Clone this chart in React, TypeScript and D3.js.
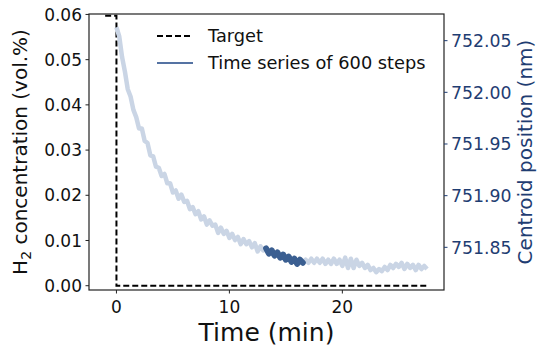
import React from "react";
import * as d3 from "d3";

// ---- data ----
const STEP_MIN = 0.25; // sampling interval of the plotted series (min)
const centroidValues: number[] = [
  752.063, 752.054, 752.034, 752.020, 752.003, 751.996, 751.983, 751.976, 751.965, 751.965,
  751.953, 751.951, 751.939, 751.938, 751.928, 751.927, 751.919, 751.921, 751.912, 751.912,
  751.903, 751.905, 751.897, 751.901, 751.894, 751.895, 751.887, 751.889, 751.882, 751.885,
  751.877, 751.880, 751.872, 751.876, 751.871, 751.872, 751.864, 751.869, 751.863, 751.866,
  751.859, 751.863, 751.857, 751.860, 751.853, 751.858, 751.853, 751.856, 751.850, 751.854,
  751.846, 751.851, 751.847, 751.849, 751.844, 751.847, 751.842, 751.845, 751.840, 751.843,
  751.838, 751.841, 751.836, 751.839, 751.834, 751.838, 751.835, 751.838, 751.835, 751.839,
  751.835, 751.839, 751.835, 751.839, 751.834, 751.838, 751.834, 751.839, 751.834, 751.838,
  751.832, 751.840, 751.830, 751.839, 751.830, 751.838, 751.832, 751.835, 751.830, 751.833,
  751.828, 751.830, 751.826, 751.829, 751.827, 751.831, 751.828, 751.833, 751.830, 751.834,
  751.831, 751.835, 751.829, 751.834, 751.830, 751.833, 751.828, 751.833, 751.829, 751.832,
  751.829,
];
const highlightStart = 13.25; // min
const highlightEnd = 16.5; // min

const targetTimes: number[] = [-1, 0, 0, 27.5];
const targetValues: number[] = [0.0597, 0.0597, 0, 0];

const xTicks: number[] = [0, 10, 20];
const leftTicks: number[] = [0.0, 0.01, 0.02, 0.03, 0.04, 0.05, 0.06];
const rightTicks: number[] = [751.85, 751.9, 751.95, 752.0, 752.05];

const legendLabels: string[] = ["Target", "Time series of 600 steps"];

// ---- layout ----
const W = 538;
const H = 348;
const L = 89;
const R = 444;
const T = 14;
const B = 290;
const FONT = "DejaVu Sans, sans-serif";
const LIGHT = "#cad5e5";
const DARK = "#3b5f91";
const AXIS_BLUE = "#1f3d72";
const LEGEND_BLUE = "#5573a3";

export default function App() {
  const x = d3.scaleLinear().domain([-2.43, 29.0]).range([L, R]);
  const yL = d3.scaleLinear().domain([-0.00095, 0.0601]).range([B, T]);
  const yR = d3.scaleLinear().domain([751.8087, 752.0758]).range([B, T]);

  const series = centroidValues.map((v, i) => ({ t: i * STEP_MIN, v }));
  const hi = series.filter((d) => d.t >= highlightStart - 1e-9 && d.t <= highlightEnd + 1e-9);

  const seriesLine = d3
    .line<{ t: number; v: number }>()
    .x((d) => x(d.t))
    .y((d) => yR(d.v));

  const target = targetTimes.map((t, i) => ({ t, v: targetValues[i] }));
  const targetLine = d3
    .line<{ t: number; v: number }>()
    .x((d) => x(d.t))
    .y((d) => yL(d.v));

  const fmtL = d3.format(".2f");
  const fmtR = d3.format(".2f");

  return (
    <svg
      width={W}
      height={H}
      style={{ position: "absolute", left: 0, top: 0, background: "#fff" }}
      fontFamily={FONT}
    >
      <rect x={0} y={0} width={W} height={H} fill="#fff" />
      <defs>
        <clipPath id="plotclip">
          <rect x={L} y={T} width={R - L} height={B - T} />
        </clipPath>
      </defs>

      <g clipPath="url(#plotclip)">
        <path d={targetLine(target) || ""} fill="none" stroke="#000" strokeWidth={2} strokeDasharray="6,3" />
        <path d={seriesLine(series) || ""} fill="none" stroke={LIGHT} strokeWidth={4.5} strokeLinejoin="round" />
        <path d={seriesLine(hi) || ""} fill="none" stroke={DARK} strokeWidth={6} strokeLinejoin="round" strokeLinecap="round" />
      </g>

      {/* frame */}
      <rect x={L} y={T} width={R - L} height={B - T} fill="none" stroke="#222" strokeWidth={1.2} />

      {/* left ticks */}
      {leftTicks.map((v) => (
        <g key={"l" + v}>
          <line x1={L - 3.5} x2={L} y1={yL(v)} y2={yL(v)} stroke="#222" strokeWidth={1} />
          <text x={L - 7} y={yL(v) + 6.2} textAnchor="end" fontSize={17} fill="#111">
            {fmtL(v)}
          </text>
        </g>
      ))}

      {/* bottom ticks */}
      {xTicks.map((v) => (
        <g key={"x" + v}>
          <line x1={x(v)} x2={x(v)} y1={B} y2={B + 3.5} stroke="#222" strokeWidth={1} />
          <text x={x(v)} y={312.5} textAnchor="middle" fontSize={17} fill="#111">
            {v}
          </text>
        </g>
      ))}

      {/* right ticks */}
      {rightTicks.map((v) => (
        <g key={"r" + v}>
          <line x1={R} x2={R + 3.5} y1={yR(v)} y2={yR(v)} stroke={AXIS_BLUE} strokeWidth={1} />
          <text x={R + 7} y={yR(v) + 6.2} textAnchor="start" fontSize={17.3} fill={AXIS_BLUE}>
            {fmtR(v)}
          </text>
        </g>
      ))}

      {/* axis labels */}
      <text x={(L + R) / 2} y={341} textAnchor="middle" fontSize={25} fill="#111">
        Time (min)
      </text>
      <text
        transform={`translate(27, ${(T + B) / 2}) rotate(-90)`}
        textAnchor="middle"
        fontSize={20}
        fill="#111"
      >
        <tspan>H</tspan>
        <tspan fontSize={14} dy={4}>2</tspan>
        <tspan dy={-4}> concentration (vol.%)</tspan>
      </text>
      <text
        transform={`translate(532, ${(T + B) / 2}) rotate(-90)`}
        textAnchor="middle"
        fontSize={20}
        fill={AXIS_BLUE}
      >
        Centroid position (nm)
      </text>

      {/* legend */}
      <line x1={157} x2={193} y1={36} y2={36} stroke="#000" strokeWidth={2} strokeDasharray="6,3" />
      <text x={208} y={42.3} fontSize={17.8} fill="#111">
        {legendLabels[0]}
      </text>
      <line x1={157} x2={193} y1={63} y2={63} stroke={LEGEND_BLUE} strokeWidth={1.8} />
      <text x={208} y={69.3} fontSize={17.8} fill="#111">
        {legendLabels[1]}
      </text>
    </svg>
  );
}
